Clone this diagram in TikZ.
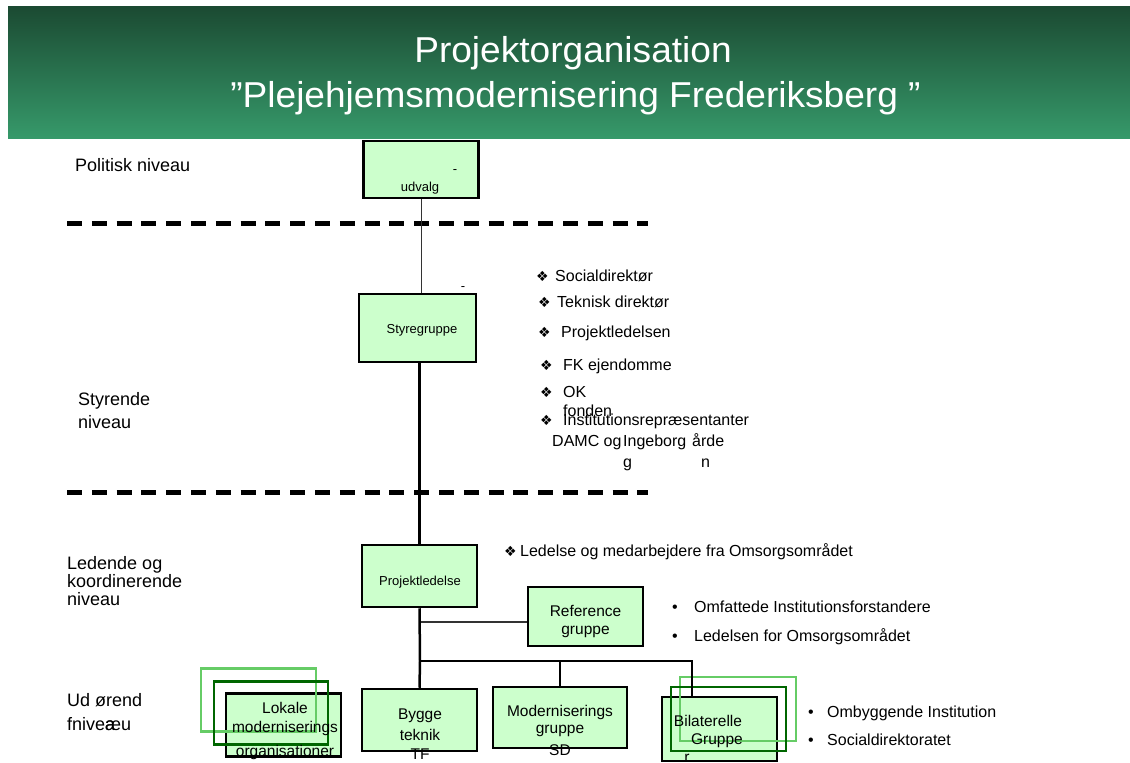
\documentclass[tikz,border=0pt]{standalone}
\usepackage{fontspec}
\setmainfont{Liberation Sans}
\newfontfamily\djv{DejaVu Sans}
\definecolor{boxfill}{HTML}{CCFFCC}
\definecolor{lgr}{HTML}{66CC66}
\definecolor{dgr}{HTML}{006600}
\definecolor{bantop}{HTML}{1B4A32}
\definecolor{banbot}{HTML}{36996A}
\definecolor{linegray}{HTML}{333333}
\begin{document}
\begin{tikzpicture}[x=1pt,y=-1pt,
  obox/.style={draw=black, line width=2.5pt, fill=boxfill, inner sep=0pt},
  gframe/.style={line width=2.5pt, inner sep=0pt},
  txt/.style={inner sep=0pt, anchor=west, text height=12pt, text depth=3.5pt, font=\fontsize{16}{19}\selectfont},
  lvl/.style={inner sep=0pt, anchor=west, align=left, font=\fontsize{18}{18}\selectfont},
  btxt/.style={inner sep=0pt, font=\fontsize{15.5}{18}\selectfont},
  stxt/.style={inner sep=0pt, font=\fontsize{13}{15}\selectfont},
  dia/.style={inner sep=0pt, anchor=west, text height=12pt, text depth=3.5pt, font=\djv\fontsize{14}{16}\selectfont},
  dot/.style={inner sep=0pt, anchor=west, text height=12pt, text depth=3.5pt, font=\fontsize{16}{19}\selectfont},
  dashline/.style={line width=5pt, dash pattern=on 15pt off 9.8pt},
  thinc/.style={draw=linegray, line width=1.2pt},
  thickc/.style={draw=black, line width=2.5pt},
  ttl/.style={inner sep=0pt, anchor=base, text=white, xscale=1.03, font=\fontsize{36}{40}\selectfont}
]
\useasboundingbox (0,0) rectangle (1130,763);
% banner
\shade[top color=bantop, bottom color=banbot] (8,6) rectangle (1130,138);
\node[ttl] (t1) at (573,62) {Projektorganisation};
\node[ttl] (t2) at (575.5,107) {”Plejehjemsmodernisering Frederiksberg ”};

% level labels
\node[lvl] (l1) at (75,165) {Politisk niveau};
\node[lvl, font=\fontsize{18}{23}\selectfont] (l2) at (78,411) {Styrende\\niveau};
\node[lvl] (l3) at (67,581) {Ledende og\\koordinerende\\niveau};
\node[lvl] (l4a) at (67,700) {Ud ørend};
\node[lvl] (l4b) at (67,724) {fnive\rlap{a}æu};

% dashed separators
\coordinate (d1a) at (67,223); \coordinate (d1b) at (648,223);
\coordinate (d2a) at (67,492); \coordinate (d2b) at (648,492);
\draw[dashline] (d1a) -- (d1b);
\draw[dashline] (d2a) -- (d2b);

% boxes
\node[obox, minimum width=115pt, minimum height=57pt] (udv) at (421,169.5) {};
\node[stxt] (udvd) at (455,172) {-};
\node[stxt] (udvt) at (420,188) {udvalg};

\node[obox, minimum width=117pt, minimum height=68pt] (styre) at (417.5,328) {};
\node[stxt] (styred) at (463,289) {-};
\node[stxt] (styret) at (422,330) {Styregruppe};

\node[obox, minimum width=115pt, minimum height=62pt] (proj) at (419.5,576) {};
\node[stxt] (projt) at (420,582) {Projektledelse};

\node[obox, minimum width=115pt, minimum height=59pt] (ref) at (585.5,616.5) {};
\node[btxt, align=center] (reft) at (585.5,621) {Reference\\gruppe};

\node[obox, minimum width=115pt, minimum height=62pt] (byg) at (419.5,720) {};
\node[btxt] (byg1) at (420,716) {Bygge};
\node[btxt] (byg2) at (420,735) {teknik};
\node[btxt] (byg3) at (420,754) {TF};

\node[obox, minimum width=134pt, minimum height=61pt] (mod) at (560,717.5) {};
\node[btxt] (mod1) at (560,712) {Moderniserings};
\node[btxt] (mod2) at (560,731) {gruppe};
\node[btxt] (mod3) at (560,750) {SD};

% Lokale stack
\node[obox, minimum width=115pt, minimum height=63pt] (lok) at (283.5,725) {};
\node[gframe, draw=lgr, minimum width=115pt, minimum height=63pt] (lokl) at (258.5,700) {};
\node[gframe, draw=dgr, minimum width=114pt, minimum height=63pt] (lokd) at (271,713) {};
\node[btxt] (lok1) at (285,708) {Lokale};
\node[btxt] (lok2) at (285,728) {moderniserings};
\node[btxt] (lok3) at (285,752) {organisationer};

% Bilaterelle stack
\node[obox, minimum width=115pt, minimum height=64pt] (bil) at (719.5,729) {};
\node[gframe, draw=lgr, minimum width=116pt, minimum height=64pt] (bill) at (738,709) {};
\node[gframe, draw=dgr, minimum width=115pt, minimum height=64pt] (bild) at (728.5,719) {};
\node[btxt] (bil1) at (708,721) {Bilaterelle};
\node[btxt] (bil2) at (717,741) {Gruppe};
\node[btxt, text height=6pt, text depth=0pt] (bil3) at (687,759) {r};

% connectors
\draw[thinc] (udv.south -| 421.5,0) -- (styre.north -| 421.5,0);
\draw[thickc] (proj.north |- styre.south) -- (proj.north);
\coordinate (refin) at ([yshift=-5.5pt]ref.west);
\draw[thinc] (refin -| proj.south) -- (refin);
\coordinate (j) at (420,661);
\coordinate (jr) at (692,661);
\coordinate (bilin) at (692,696);
\draw[thickc] (proj.south) -- (j) -- (byg.north);
\draw[thickc, line cap=rect] (j) -- (jr) -- (bilin);
\draw[thickc] (mod.north |- j) -- (mod.north);

% bullet lists
\node[dia] (b1) at (536,277) {❖}; \node[txt] (s1) at (555,277) {Socialdirektør};
\node[dia] (b2) at (538,303) {❖}; \node[txt] (s2) at (557,303) {Teknisk direktør};
\node[dia] (b3) at (538,333) {❖}; \node[txt] (s3) at (561,333) {Projektledelsen};
\node[dia] (b4) at (540,366) {❖}; \node[txt] (s4) at (563,366) {FK ejendomme};
\node[dia] (b5) at (540,393) {❖}; \node[txt] (s5) at (563,393) {OK};
\node[txt] (s5b) at (563,412) {fonden};
\node[dia] (b6) at (540,421) {❖}; \node[txt] (s6) at (563,421) {Institutionsrepræsentanter};
\node[txt] (s6a) at (552,442) {DAMC og};
\node[txt] (s6b) at (623,442) {Ingeborg};
\node[txt] (s6c) at (692,442) {årde};
\node[txt] (s6d) at (623,463) {g};
\node[txt] (s6e) at (701,463) {n};

\node[dia] (b7) at (504,552) {❖}; \node[txt] (s7) at (520,552) {Ledelse og medarbejdere fra Omsorgsområdet};

\node[dot] (b8) at (672,608) {•}; \node[txt] (s8) at (694,608) {Omfattede Institutionsforstandere};
\node[dot] (b9) at (672,637) {•}; \node[txt] (s9) at (694,637) {Ledelsen for Omsorgsområdet};

\node[dot] (b10) at (808,713) {•}; \node[txt] (s10) at (827,713) {Ombyggende Institution};
\node[dot] (b11) at (808,741) {•}; \node[txt] (s11) at (827,741) {Socialdirektoratet};
\end{tikzpicture}
\end{document}
